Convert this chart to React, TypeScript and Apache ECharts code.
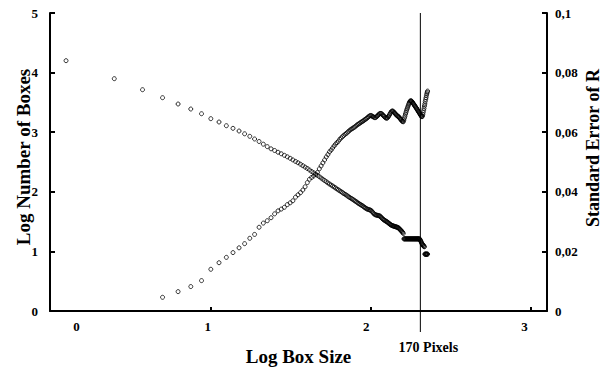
import React, { useEffect, useRef } from 'react';
import * as echarts from 'echarts';

// Box sizes in pixels (x = log10 of these)
const boxSizes = [
  1, 2, 3, 4, 5, 6, 7, 8, 9, 10, 11, 12, 13, 14, 15, 16, 17, 18, 19, 20,
  21, 22, 23, 24, 25, 26, 27, 28, 29, 30, 31, 32, 33, 34, 35, 36, 37, 38, 39, 40,
  41, 42, 43, 44, 45, 46, 47, 48, 49, 50, 51, 52, 53, 54, 55, 56, 57, 58, 59, 60,
  61, 62, 63, 64, 65, 66, 67, 68, 69, 70, 71, 72, 73, 74, 75, 76, 77, 78, 79, 80,
  81, 82, 83, 84, 85, 86, 87, 88, 89, 90, 91, 92, 93, 94, 95, 96, 97, 98, 99, 100,
  101, 102, 103, 104, 105, 106, 107, 108, 109, 110, 111, 112, 113, 114, 115, 116, 117, 118, 119, 120,
  121, 122, 123, 124, 125, 126, 127, 128, 129, 130, 131, 132, 133, 134, 135, 136, 137, 138, 139, 140,
  141, 142, 143, 144, 145, 146, 147, 148, 149, 150, 151, 152, 153, 154, 155, 156, 157, 158, 159, 160,
  161, 162, 163, 164, 165, 166, 167, 168, 169, 170, 171, 172, 173, 174, 175, 176, 177, 178, 179, 180,
];

// Log Number of Boxes (left axis)
const logBoxCounts = [
  4.200, 3.898, 3.713, 3.579, 3.473, 3.389, 3.310, 3.227, 3.171, 3.109,
  3.065, 3.020, 2.973, 2.931, 2.886, 2.844, 2.799, 2.758, 2.721, 2.693,
  2.664, 2.638, 2.612, 2.587, 2.562, 2.535, 2.510, 2.487, 2.463, 2.438,
  2.414, 2.391, 2.366, 2.342, 2.319, 2.299, 2.277, 2.253, 2.232, 2.210,
  2.190, 2.169, 2.149, 2.131, 2.114, 2.097, 2.081, 2.064, 2.047, 2.032,
  2.017, 2.002, 1.987, 1.971, 1.958, 1.945, 1.930, 1.916, 1.903, 1.889,
  1.878, 1.866, 1.852, 1.841, 1.829, 1.815, 1.804, 1.792, 1.782, 1.772,
  1.762, 1.748, 1.737, 1.725, 1.715, 1.708, 1.703, 1.698, 1.693, 1.686,
  1.669, 1.653, 1.636, 1.622, 1.614, 1.611, 1.607, 1.604, 1.601, 1.597,
  1.591, 1.577, 1.564, 1.550, 1.539, 1.530, 1.522, 1.513, 1.507, 1.500,
  1.492, 1.483, 1.473, 1.463, 1.455, 1.446, 1.440, 1.435, 1.430, 1.426,
  1.423, 1.419, 1.416, 1.413, 1.409, 1.406, 1.403, 1.398, 1.389, 1.379,
  1.369, 1.359, 1.349, 1.339, 1.329, 1.317, 1.300, 1.210, 1.210, 1.210,
  1.210, 1.210, 1.210, 1.210, 1.210, 1.210, 1.210, 1.210, 1.210, 1.210,
  1.210, 1.210, 1.210, 1.210, 1.210, 1.210, 1.210, 1.210, 1.210, 1.210,
  1.210, 1.210, 1.210, 1.210, 1.210, 1.210, 1.210, 1.210, 1.210, 1.210,
  1.204, 1.190, 1.176, 1.161, 1.146, 1.130, 1.114, 1.114, 1.097, 1.097,
  1.079, 1.079, 0.954, 0.954, 0.954, 0.954, 0.954, 0.954, 0.954, 0.954,
];

// Standard Error of R (right axis); no value for the first three box sizes
const stdErrorR = [
  null, null, null, 0.0046, 0.0065, 0.0082, 0.0102, 0.0140, 0.0162, 0.0180,
  0.0196, 0.0212, 0.0226, 0.0244, 0.0257, 0.0281, 0.0295, 0.0303, 0.0313, 0.0326,
  0.0336, 0.0342, 0.0348, 0.0357, 0.0363, 0.0370, 0.0382, 0.0390, 0.0397, 0.0406,
  0.0417, 0.0431, 0.0442, 0.0448, 0.0453, 0.0458, 0.0465, 0.0477, 0.0487, 0.0497,
  0.0507, 0.0517, 0.0525, 0.0534, 0.0540, 0.0547, 0.0554, 0.0560, 0.0565, 0.0570,
  0.0576, 0.0581, 0.0585, 0.0589, 0.0593, 0.0596, 0.0600, 0.0603, 0.0607, 0.0610,
  0.0612, 0.0615, 0.0617, 0.0620, 0.0623, 0.0626, 0.0628, 0.0630, 0.0633, 0.0635,
  0.0637, 0.0639, 0.0642, 0.0644, 0.0646, 0.0649, 0.0652, 0.0654, 0.0656, 0.0656,
  0.0654, 0.0652, 0.0651, 0.0649, 0.0649, 0.0651, 0.0653, 0.0656, 0.0659, 0.0661,
  0.0663, 0.0663, 0.0662, 0.0659, 0.0657, 0.0654, 0.0652, 0.0649, 0.0648, 0.0647,
  0.0648, 0.0651, 0.0654, 0.0658, 0.0662, 0.0666, 0.0669, 0.0671, 0.0671, 0.0669,
  0.0667, 0.0665, 0.0662, 0.0660, 0.0658, 0.0656, 0.0654, 0.0653, 0.0651, 0.0649,
  0.0646, 0.0644, 0.0642, 0.0639, 0.0637, 0.0636, 0.0635, 0.0641, 0.0648, 0.0654,
  0.0661, 0.0667, 0.0673, 0.0678, 0.0683, 0.0688, 0.0693, 0.0697, 0.0701, 0.0704,
  0.0705, 0.0705, 0.0704, 0.0702, 0.0700, 0.0697, 0.0695, 0.0693, 0.0690, 0.0688,
  0.0686, 0.0683, 0.0681, 0.0679, 0.0676, 0.0674, 0.0671, 0.0669, 0.0667, 0.0664,
  0.0662, 0.0660, 0.0657, 0.0655, 0.0653, 0.0652, 0.0654, 0.0659, 0.0666, 0.0673,
  0.0680, 0.0688, 0.0695, 0.0703, 0.0710, 0.0716, 0.0723, 0.0729, 0.0734, 0.0738,
];

const xTickLabels = ['0', '1', '2', '3'];
const cutoffLogSize = 2.21;
const cutoffLabel = '170 Pixels';

const FONT = "'Liberation Serif', 'Times New Roman', serif";

export default function App() {
  const ref = useRef<HTMLDivElement>(null);

  useEffect(() => {
    if (!ref.current) return;
    const chart = echarts.init(ref.current, null, { renderer: 'svg' });

    const boxesData = boxSizes.map((s, i) => [Math.log10(s), logBoxCounts[i]]);
    const seData = boxSizes
      .map((s, i) => (stdErrorR[i] == null ? null : [Math.log10(s), stdErrorR[i]]))
      .filter((d) => d !== null);

    const tickFont = { fontFamily: FONT, fontWeight: 'bold' as const, fontSize: 13, color: '#000' };
    const titleFont = { fontFamily: FONT, fontWeight: 'bold' as const, fontSize: 19, color: '#000' };
    const labelPads = [
      [0, 0, 0, 53],
      [0, 5, 0, 0],
      [0, 9, 0, 0],
      [0, 13, 0, 0],
    ];
    const rich: Record<string, any> = {};
    xTickLabels.forEach((_, i) => {
      rich['t' + i] = { ...tickFont, padding: labelPads[i] };
    });

    const markerStyle = {
      color: 'rgba(0,0,0,0)',
      borderColor: '#000',
      borderWidth: 1,
    };

    chart.setOption({
      animation: false,
      backgroundColor: '#fff',
      grid: { left: 50, right: 56, top: 13, bottom: 61, containLabel: false, outerBoundsMode: 'none' },
      xAxis: [
        {
          type: 'value',
          min: 0,
          max: 3.1,
          interval: 1,
          position: 'bottom',
          axisLine: { show: true, onZero: false, lineStyle: { color: '#000', width: 2 } },
          axisTick: { show: true, inside: true, length: 4, lineStyle: { color: '#000', width: 2 } },
          splitLine: { show: false },
          axisLabel: {
            ...tickFont,
            margin: 9,
            showMaxLabel: false,
            formatter: (v: number) => {
              const i = Math.round(v);
              if (Math.abs(v - i) > 1e-6 || i < 0 || i >= xTickLabels.length) return '';
              return `{t${i}|${xTickLabels[i]}}`;
            },
            rich,
          },
          name: 'Log Box Size',
          nameLocation: 'middle',
          nameGap: 36,
          nameMoveOverlap: false,
          nameTextStyle: titleFont,
        },
        {
          type: 'value',
          min: -0.1,
          max: 3.0,
          show: false,
          splitLine: { show: false },
        },
      ],
      yAxis: [
        {
          type: 'value',
          min: 0,
          max: 5,
          interval: 1,
          position: 'left',
          axisLine: { show: true, onZero: false, lineStyle: { color: '#000', width: 2 } },
          axisTick: { show: true, inside: true, length: 5, lineStyle: { color: '#000', width: 2 } },
          splitLine: { show: false },
          axisLabel: { ...tickFont, margin: 12 },
          name: 'Log Number of Boxes',
          nameLocation: 'middle',
          nameGap: 17,
          nameMoveOverlap: false,
          nameTextStyle: { ...titleFont, padding: [0, 0, 0, 10] },
        },
        {
          type: 'value',
          min: 0,
          max: 0.1,
          interval: 0.02,
          position: 'right',
          axisLine: { show: true, onZero: false, lineStyle: { color: '#000', width: 2 } },
          axisTick: { show: true, inside: true, length: 5, lineStyle: { color: '#000', width: 2 } },
          splitLine: { show: false },
          axisLabel: {
            ...tickFont,
            margin: 8,
            formatter: (v: number) => String(+v.toFixed(2)).replace('.', ','),
          },
          name: 'Standard Error of R',
          nameLocation: 'middle',
          nameGap: 37,
          nameMoveOverlap: false,
          nameTextStyle: { ...titleFont, fontSize: 18, padding: [0, 0, 0, 28] },
        },
      ],
      series: [
        {
          name: 'Log Number of Boxes',
          type: 'scatter',
          xAxisIndex: 1,
          yAxisIndex: 0,
          symbol: 'circle',
          symbolSize: 4,
          itemStyle: markerStyle,
          data: boxesData,
          silent: true,
        },
        {
          name: 'Standard Error of R',
          type: 'scatter',
          xAxisIndex: 1,
          yAxisIndex: 1,
          symbol: 'circle',
          symbolSize: 4,
          itemStyle: markerStyle,
          data: seData,
          silent: true,
        },
      ],
    });

    const px = chart.convertToPixel({ xAxisIndex: 1 }, cutoffLogSize) as number;
    chart.setOption({
      graphic: [
        {
          type: 'line',
          shape: { x1: px, y1: 13, x2: px, y2: 332 },
          style: { stroke: '#000', lineWidth: 1 },
          silent: true,
        },
        {
          type: 'text',
          x: px + 8,
          y: 347,
          style: {
            text: cutoffLabel,
            fontFamily: FONT,
            fontWeight: 'bold',
            fontSize: 14,
            fill: '#000',
            align: 'center',
            verticalAlign: 'middle',
          },
          silent: true,
        },
      ],
    });

    return () => chart.dispose();
  }, []);

  return (
    <div
      ref={ref}
      style={{ position: 'absolute', left: 0, top: 0, width: 603, height: 372 }}
    />
  );
}
